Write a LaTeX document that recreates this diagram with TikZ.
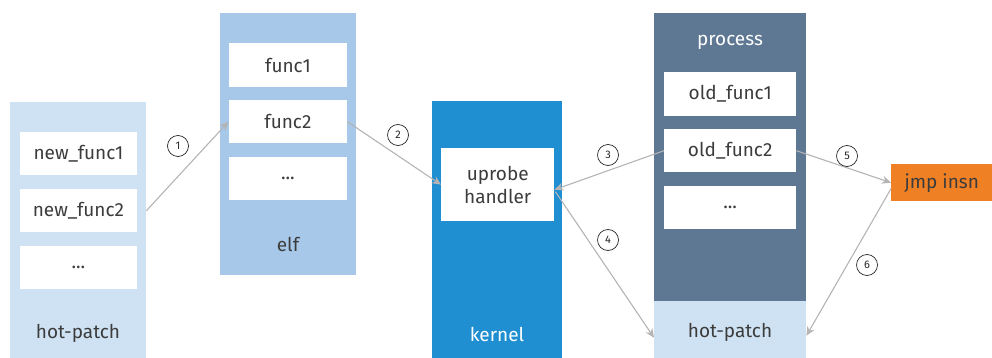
\documentclass[tikz,border=0pt]{standalone}
\usepackage{fontspec}
\setmainfont{Fira Sans}
\usetikzlibrary{arrows.meta,calc}
\definecolor{hpcol}{HTML}{CFE2F3}
\definecolor{elfcol}{HTML}{A7C8E8}
\definecolor{kercol}{HTML}{1F8FD1}
\definecolor{proccol}{HTML}{5E7894}
\definecolor{jmpcol}{HTML}{F08024}
\definecolor{txtcol}{HTML}{3C3C3C}
\definecolor{arrcol}{HTML}{B4B4B4}
\begin{document}
\begin{tikzpicture}[x=1pt,y=-1pt,
  col/.style={draw=none,inner sep=0pt,anchor=north west},
  fbox/.style={fill=white,draw=none,inner sep=0pt,anchor=north west,minimum height=43pt,text=txtcol,font=\fontsize{19}{21}\selectfont},
  lbl/.style={text=txtcol,font=\fontsize{19}{21}\selectfont,inner sep=0pt},
  wlbl/.style={text=white,font=\fontsize{19}{21}\selectfont,inner sep=0pt},
  conn/.style={draw=arrcol,line width=1.1pt,-{Stealth[length=9pt,width=8pt]}},
  num/.style={circle,draw=black!85,line width=0.7pt,minimum size=21pt,inner sep=0pt,font=\fontsize{11}{12}\selectfont,text=black!85}]
\useasboundingbox (0,0) rectangle (992,358);
% columns
\node[col,fill=hpcol,minimum width=136pt,minimum height=256pt] (hp) at (10,102) {};
\node[col,fill=elfcol,minimum width=136pt,minimum height=262pt] (elf) at (220,13) {};
\node[col,fill=kercol,minimum width=130pt,minimum height=257pt] (ker) at (432,101) {};
\node[col,fill=proccol,minimum width=152pt,minimum height=288pt] (proc) at (654,13) {};
\node[col,fill=hpcol,minimum width=152pt,minimum height=57pt] (hpl) at (654,301) {};
% hot-patch boxes
\node[fbox,minimum width=117.5pt] (new1) at (19.5,132) {new\_func1};
\node[fbox,minimum width=117.5pt] (new2) at (19.5,189) {new\_func2};
\node[fbox,minimum width=117.5pt] (newd) at (19.5,246) {...};
\node[lbl] (hplbl) at (78,333) {hot-patch};
% elf boxes
\node[fbox,minimum width=118.5pt,minimum height=44pt] (f1) at (228.5,43) {func1};
\node[fbox,minimum width=118.5pt] (f2) at (228.5,100) {func2};
\node[fbox,minimum width=118.5pt] (fd) at (228.5,157) {...};
\node[lbl] (elflbl) at (288,244) {elf};
% kernel
\node[fbox,minimum width=113pt,minimum height=73pt,align=center,font=\fontsize{19}{23}\selectfont] (up) at (441,148) {uprobe\\handler};
\node[wlbl] (kerlbl) at (497,334) {kernel};
% process
\node[wlbl] (proclbl) at (730,42) {process};
\node[fbox,minimum width=132pt,minimum height=44pt] (o1) at (664,72) {old\_func1};
\node[fbox,minimum width=132pt] (o2) at (664,129) {old\_func2};
\node[fbox,minimum width=132pt] (od) at (664,186) {...};
\node[lbl] (hpllbl) at (730,332) {hot-patch};
% jmp insn
\node[col,fill=jmpcol,minimum width=101pt,minimum height=37pt,text=txtcol,font=\fontsize{19}{21}\selectfont] (jmp) at (891,164) {jmp insn};
% connectors
\coordinate (s1) at (new2.east -| hp.east);
\draw[conn] (s1) -- (f2.west);
\draw[conn] (f2.east) -- (up.west);
\coordinate (upin) at ($(up.east)+(0,5)$);
\draw[conn] (o2.west) -- (upin);
\coordinate (upout) at ($(up.east)+(1,7)$);
\coordinate (hplin) at ($(hpl.west)+(0,8)$);
\draw[conn] (upout) -- (hplin);
\draw[conn] (o2.east) -- (jmp.west);
\coordinate (jout) at ($(jmp.west)+(0,6)$);
\coordinate (hplin2) at ($(hpl.east)+(0,6)$);
\draw[conn] (jout) -- (hplin2);
% step numbers
\node[num] (n1) at (178,146) {1};
\node[num] (n2) at (398,135) {2};
\node[num] (n3) at (608,155) {3};
\node[num] (n4) at (608,240) {4};
\node[num] (n5) at (847,156) {5};
\node[num] (n6) at (867,265) {6};
\end{tikzpicture}
\end{document}
